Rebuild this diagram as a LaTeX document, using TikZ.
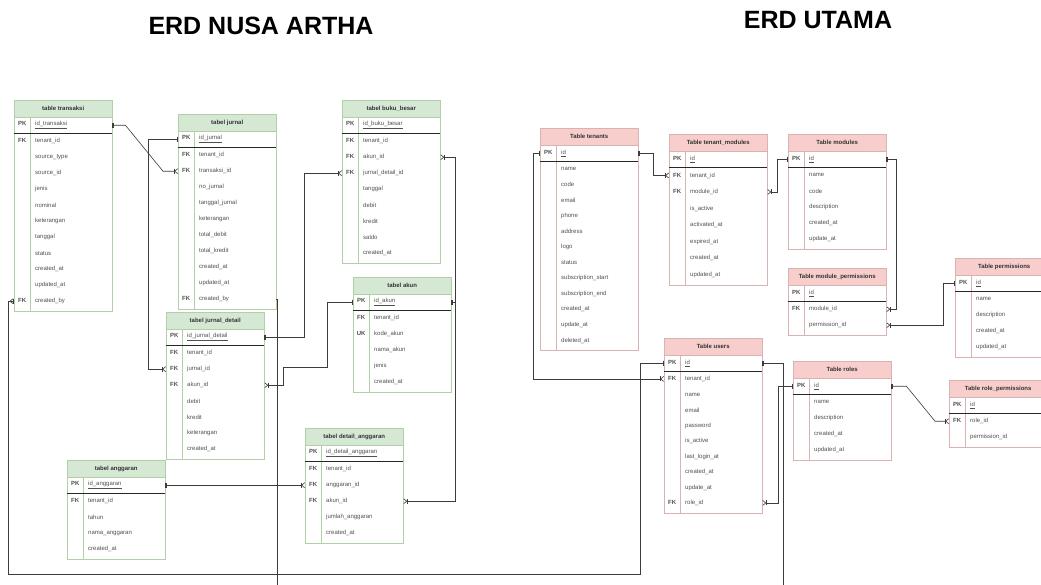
\documentclass[tikz,border=0pt]{standalone}
\usepackage{fontspec}
\setmainfont{Liberation Sans}
\usetikzlibrary{arrows.meta}
\setlength{\parindent}{0pt}
\definecolor{hdrgreen}{HTML}{D5E8D4}
\definecolor{edgegreen}{HTML}{B3CFA8}
\definecolor{hdrpink}{HTML}{F8CECC}
\definecolor{edgepink}{HTML}{D9B3B1}
\definecolor{linkgray}{HTML}{3C3C3C}
\definecolor{fieldtext}{HTML}{505050}

% one ERD table: name, x, y, colour, title, pk field, row step, key/field rows
\newcommand{\keycol}[1]{\makebox[12pt][c]{\bfseries #1}\hspace{7pt}}
\newcommand{\erdtable}[8]{%
  \node[tblhead, fill=hdr#4, draw=edge#4] (#1) at (#2,#3) {#5};
  \node[tblrow, minimum height=16pt] (#1-pk) at (#2,#3+17) {\keycol{PK}\underline{#6}};
  \foreach \k/\f [count=\i] in {#8} {
    \node[tblrow, minimum height=#7pt] (#1-\i) at (#2,#3+33+\i*#7-#7) {\keycol{\k}\f};
    \xdef\erdlast{\i}
  }
  \draw[tbledge, edge#4] (#1.north west) rectangle ([yshift=-2pt]#1-\erdlast.south east);
  \draw[tbledge, edge#4] ([xshift=16pt]#1.south west) -- ([xshift=16pt,yshift=-2pt]#1-\erdlast.south west);
  \draw[pksep] (#1-pk.south west) -- (#1-pk.south east);
}

\begin{document}
\begin{tikzpicture}[x=1pt, y=-1pt,
  tblhead/.style={anchor=north west, minimum width=98pt, minimum height=17pt, inner sep=0pt, font=\fontsize{6}{7}\selectfont\bfseries, text=black!80},
  tblrow/.style={anchor=north west, text width=94pt, inner xsep=2pt, inner ysep=0pt, align=left, font=\fontsize{6}{7}\selectfont, text=fieldtext},
  tbledge/.style={line width=0.6pt},
  pksep/.style={line width=0.9pt, black!85},
  rel/.style={draw=linkgray, line width=0.6pt},
  onemany/.style={rel, arrows={Bar[width=5pt]Bar[width=5pt]-Bar[width=5pt]Straight Barb[reversed,length=3pt,width=5pt]}},
  manyone/.style={rel, arrows={Bar[width=5pt]Straight Barb[reversed,length=3pt,width=5pt]-Bar[width=5pt]Bar[width=5pt]}},
  title/.style={font=\fontsize{25}{30}\selectfont\bfseries}]
\useasboundingbox (0,0) rectangle (1041,584);
\fill[white] (0,0) rectangle (1041,584);
\clip (0,0) rectangle (1041,584);

\node[title] (ttlA) at (261,26) {ERD NUSA ARTHA};
\node[title] (ttlB) at (818,20) {ERD UTAMA};

% ERD nusa artha
\erdtable{trx}{14}{100}{green}{table transaksi}{id\_transaksi}{16}{FK/tenant\_id, /source\_type, /source\_id, /jenis, /nominal, /keterangan, /tanggal, /status, /created\_at, /updated\_at, FK/created\_by}
\erdtable{jur}{178}{114}{green}{tabel jurnal}{id\_jurnal}{16}{FK/tenant\_id, FK/transaksi\_id, /no\_jurnal, /tanggal\_jurnal, /keterangan, /total\_debit, /total\_kredit, /created\_at, /updated\_at, FK/created\_by}
\erdtable{bb}{342}{100}{green}{tabel buku\_besar}{id\_buku\_besar}{16}{FK/tenant\_id, FK/akun\_id, FK/jurnal\_detail\_id, /tanggal, /debit, /kredit, /saldo, /created\_at}
\erdtable{jd}{166}{312}{green}{tabel jurnal\_detail}{id\_jurnal\_detail}{16}{FK/tenant\_id, FK/jurnal\_id, FK/akun\_id, /debit, /kredit, /keterangan, /created\_at}
\erdtable{akn}{353}{277}{green}{tabel akun}{id\_akun}{16}{FK/tenant\_id, UK/kode\_akun, /nama\_akun, /jenis, /created\_at}
\erdtable{ang}{67}{460}{green}{tabel anggaran}{id\_anggaran}{16}{FK/tenant\_id, /tahun, /nama\_anggaran, /created\_at}
\erdtable{da}{305}{428}{green}{tabel detail\_anggaran}{id\_detail\_anggaran}{16}{FK/tenant\_id, FK/anggaran\_id, FK/akun\_id, /jumlah\_anggaran, /created\_at}

% ERD utama
\erdtable{ten}{540}{128}{pink}{Table tenants}{id}{15.6}{/name, /code, /email, /phone, /address, /logo, /status, /subscription\_start, /subscription\_end, /created\_at, /update\_at, /deleted\_at}
\erdtable{tm}{669}{134}{pink}{Table tenant\_modules}{id}{16.5}{FK/tenant\_id, FK/module\_id, /is\_active, /activated\_at, /expired\_at, /created\_at, /updated\_at}
\erdtable{mod}{788}{134}{pink}{Table modules}{id}{16}{/name, /code, /description, /created\_at, /update\_at}
\erdtable{mp}{788}{268}{pink}{Table module\_permissions}{id}{16}{FK/module\_id, /permission\_id}
\erdtable{prm}{955}{258}{pink}{Table permissions}{id}{16}{/name, /description, /created\_at, /updated\_at}
\erdtable{usr}{664}{338}{pink}{Table users}{id}{15.5}{FK/tenant\_id, /name, /email, /password, /is\_active, /last\_login\_at, /created\_at, /update\_at, FK/role\_id}
\erdtable{rol}{793}{361}{pink}{Table roles}{id}{16}{/name, /description, /created\_at, /updated\_at}
\erdtable{rp}{949}{380}{pink}{Table role\_permissions}{id}{16}{FK/role\_id, /permission\_id}

% relations
\coordinate (busL) at (8,574);
\coordinate (jurOut) at (277,600);
\coordinate (usrOut) at (783,600);
\draw[onemany] (trx-pk.east) -- ++(13,0) -- ([xshift=-15pt]jur-2.west) -- (jur-2.west);
\draw[onemany] (jur-pk.west) -- ++(-30,0) |- (jd-2.west);
\draw[manyone] (trx-11.west) -| (busL) -| ([xshift=-24pt]usr-pk.west) -- (usr-pk.west);
\draw[rel] (jur-10.east) -| (jurOut);
\draw[onemany] (jd-pk.east) -- ++(40,0) |- (bb-3.west);
\draw[onemany] (akn-pk.west) -- ++(-26,0) -- ++(0,65) -| ([xshift=19pt]jd-3.east) -- (jd-3.east);
\draw[onemany] (akn-pk.east) -- ++(4,0) |- (bb-2.east);
\draw[onemany] (akn-pk.east) -- ++(4,0) |- (da-3.east);
\draw[onemany] (ang-pk.east) -- (ang-pk.east -| da-2.west);
\draw[onemany] (ten-pk.east) -- ++(15,0) |- (tm-1.west);
\draw[onemany] (mod-pk.west) -- ++(-11,0) |- (tm-2.east);
\draw[onemany] (mod-pk.east) -- ++(10,0) |- (mp-1.east);
\draw[onemany] (prm-pk.west) -- ++(-12,0) |- (mp-2.east);
\draw[onemany] (ten-pk.west) -- ++(-7,0) |- (usr-1.west);
\draw[onemany] (rol-pk.west) -- ++(-15,0) |- (usr-9.east);
\draw[onemany] (rol-pk.east) -- ++(15,0) -- ([xshift=-14pt]rp-1.west) -- (rp-1.west);
\draw[rel, arrows={Bar[width=5pt]Bar[width=5pt]-}] (usr-pk.east) -| (usrOut);
\end{tikzpicture}
\end{document}
